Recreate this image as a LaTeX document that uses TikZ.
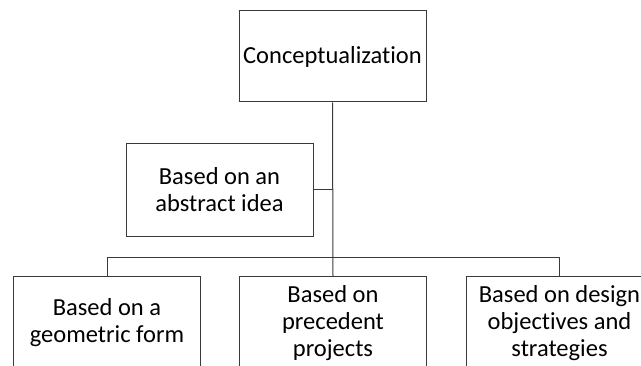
\documentclass[tikz,border=0pt]{standalone}
\usepackage{fontspec}
\setmainfont{Carlito}[Ligatures=NoCommon]
\usepackage{tikz}
\usetikzlibrary{positioning, calc}
\definecolor{boxline}{HTML}{3A3A3A}
\tikzset{
  ideabox/.style = {rectangle, draw=boxline, fill=white, line width=1pt,
                    align=center, font=\fontsize{24.5}{27}\selectfont,
                    minimum width=187pt, minimum height=93pt, inner sep=2pt},
  link/.style    = {draw=boxline, line width=1pt},
}
\begin{document}
\begin{tikzpicture}[x=1pt, y=1pt]
  \useasboundingbox (0,0) rectangle (641,365);
  \clip (0,0) rectangle (641,365);
  \node[ideabox, minimum height=91pt] (concept) at (332.5,308.5) {Conceptualization};
  \node[ideabox] (abstract) at (219.5,175) {Based on an\\abstract idea};
  \node[ideabox] (geom) at (107,42) {Based on a\\geometric form};
  \node[ideabox] (prec) at (333,42) {Based on\\precedent\\projects};
  \node[ideabox] (design) at (559.5,42) {Based on design\\objectives and\\strategies};
  % trunk and bus
  \draw[link] (concept.south) -- (prec.north);
  \draw[link] (abstract.east) -- (abstract.east -| concept.south);
  \draw[link] (geom.north) -- ++(0,19) -| (design.north);
\end{tikzpicture}
\end{document}
